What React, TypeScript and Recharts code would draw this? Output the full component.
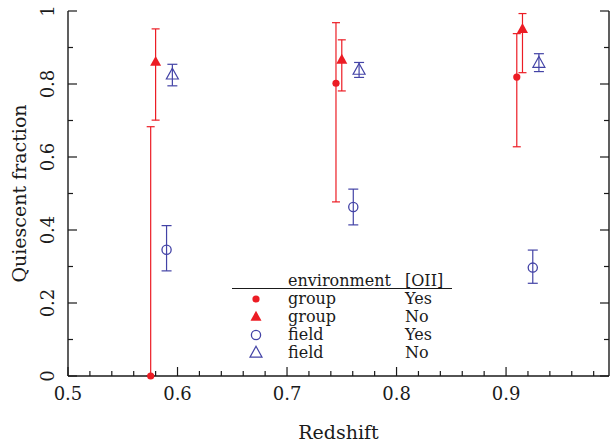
import React from 'react';
import { ScatterChart, Scatter, XAxis, YAxis, ErrorBar } from 'recharts';

// ---- data ----
// [redshift, fraction, lower bound, upper bound]
const groupYes = [
  [0.5755, 0.0, 0.0, 0.683],
  [0.7447, 0.802, 0.477, 0.968],
  [0.9098, 0.819, 0.628, 0.938],
];
const groupNo = [
  [0.58, 0.86, 0.701, 0.951],
  [0.75, 0.866, 0.781, 0.921],
  [0.915, 0.95, 0.831, 0.993],
];
const fieldYes = [
  [0.59, 0.346, 0.288, 0.412],
  [0.7605, 0.463, 0.414, 0.512],
  [0.9244, 0.297, 0.254, 0.345],
];
const fieldNo = [
  [0.5953, 0.825, 0.795, 0.854],
  [0.7658, 0.838, 0.818, 0.859],
  [0.93, 0.857, 0.834, 0.883],
];

const xTicks = [0.5, 0.52, 0.54, 0.56, 0.58, 0.6, 0.62, 0.64, 0.66, 0.68, 0.7, 0.72, 0.74, 0.76, 0.78, 0.8, 0.82, 0.84, 0.86, 0.88, 0.9, 0.92, 0.94, 0.96, 0.98];
const yTicks = [0, 0.1, 0.2, 0.3, 0.4, 0.5, 0.6, 0.7, 0.8, 0.9, 1];
const xMajor = [0.5, 0.6, 0.7, 0.8, 0.9];
const yMajor = [0, 0.2, 0.4, 0.6, 0.8, 1];
const xDomain = [0.5, 0.994];
const yDomain = [0, 1];

const legendHeader = ['environment', '[OII]'];
const legendRows = [
  ['group', 'Yes'],
  ['group', 'No'],
  ['field', 'Yes'],
  ['field', 'No'],
];

// ---- styles ----
const RED = '#ec1c24';
const BLUE = '#4343a6';
const FONT = '"DejaVu Serif", serif';
const INK = '#1a1a1a';

const toRows = (arr: number[][]) =>
  arr.map(([x, y, lo, hi]) => ({ x, y, err: [y - lo, hi - y] }));

const isMajor = (v: number, majors: number[]) => majors.some((m) => Math.abs(m - v) < 1e-6);

const fmt = (v: number) => (Math.abs(v) < 1e-9 ? '0' : Math.abs(v - 1) < 1e-9 ? '1' : v.toFixed(1));

const BottomTick = (props: any) => {
  const { x, y, payload } = props;
  const major = isMajor(payload.value, xMajor);
  return (
    <g>
      <line x1={x} x2={x} y1={y} y2={y - (major ? 9 : 5)} stroke={INK} strokeWidth={1.2} />
      {major && (
        <text x={x} y={y + 24} textAnchor="middle" fontFamily={FONT} fontSize={18} fill={INK}>
          {fmt(payload.value)}
        </text>
      )}
    </g>
  );
};

const TopTick = (props: any) => {
  const { x, y, payload } = props;
  const major = isMajor(payload.value, xMajor);
  return <line x1={x} x2={x} y1={y} y2={y + (major ? 9 : 5)} stroke={INK} strokeWidth={1.2} />;
};

const LeftTick = (props: any) => {
  const { x, y, payload } = props;
  const major = isMajor(payload.value, yMajor);
  const tx = x - 14;
  return (
    <g>
      <line x1={x} x2={x + (major ? 9 : 5)} y1={y} y2={y} stroke={INK} strokeWidth={1.2} />
      {major && (
        <text
          x={tx}
          y={y}
          textAnchor="middle"
          fontFamily={FONT}
          fontSize={18}
          fill={INK}
          transform={`rotate(-90 ${tx} ${y})`}
        >
          {fmt(payload.value)}
        </text>
      )}
    </g>
  );
};

const RightTick = (props: any) => {
  const { x, y, payload } = props;
  const major = isMajor(payload.value, yMajor);
  return <line x1={x} x2={x - (major ? 9 : 5)} y1={y} y2={y} stroke={INK} strokeWidth={1.2} />;
};

const FilledCircle = ({ cx, cy, c }: any) => <circle cx={cx} cy={cy} r={3.6} fill={c} />;
const OpenCircle = ({ cx, cy, c }: any) => <circle cx={cx} cy={cy} r={4.6} fill="none" stroke={c} strokeWidth={1.3} />;
const triPath = (cx: number, cy: number, w: number) => {
  const h = w * 0.9;
  return `M${cx},${cy - h * 0.62} L${cx + w / 2},${cy + h * 0.38} L${cx - w / 2},${cy + h * 0.38} Z`;
};
const FilledTri = ({ cx, cy, c }: any) => <path d={triPath(cx, cy, 11)} fill={c} />;
const OpenTri = ({ cx, cy, c }: any) => <path d={triPath(cx, cy, 12)} fill="none" stroke={c} strokeWidth={1.2} />;

export default function App() {
  return (
    <div style={{ position: 'absolute', left: 0, top: 0, width: 610, height: 445, background: '#fff' }}>
      <ScatterChart width={610} height={445} margin={{ top: 11, right: 0, bottom: 0, left: 0 }}>
        <XAxis
          xAxisId="bottom"
          type="number"
          dataKey="x"
          domain={xDomain}
          ticks={xTicks}
          orientation="bottom"
          height={69}
          axisLine={{ stroke: INK, strokeWidth: 1.4 }}
          tickLine={false}
          tickSize={0}
          tickMargin={0}
          tick={<BottomTick />}
          interval={0}
          label={{ value: 'Redshift', position: 'insideBottom', offset: 6, fontFamily: FONT, fontSize: 19, fill: INK }}
        />
        <XAxis
          xAxisId="top"
          type="number"
          dataKey="x"
          domain={xDomain}
          ticks={xTicks}
          allowDataOverflow
          orientation="top"
          height={0}
          axisLine={{ stroke: INK, strokeWidth: 1.4 }}
          tickLine={false}
          tickSize={0}
          tickMargin={0}
          tick={<TopTick />}
          interval={0}
        />
        <YAxis
          yAxisId="left"
          type="number"
          dataKey="y"
          domain={yDomain}
          ticks={yTicks}
          orientation="left"
          width={68}
          axisLine={{ stroke: INK, strokeWidth: 1.4 }}
          tickLine={false}
          tickSize={0}
          tickMargin={0}
          tick={<LeftTick />}
          interval={0}
          label={{ value: 'Quiescent fraction', angle: -90, position: 'insideLeft', offset: 19, fontFamily: FONT, fontSize: 19, fill: INK, style: { textAnchor: 'middle' } }}
        />
        <YAxis
          yAxisId="right"
          type="number"
          dataKey="y"
          domain={yDomain}
          ticks={yTicks}
          allowDataOverflow
          orientation="right"
          width={1}
          axisLine={{ stroke: INK, strokeWidth: 1.4 }}
          tickLine={false}
          tickSize={0}
          tickMargin={0}
          tick={<RightTick />}
          interval={0}
        />
        <Scatter xAxisId="top" yAxisId="right" data={toRows(fieldNo)} shape={() => <g />} isAnimationActive={false} />
        <Scatter xAxisId="bottom" yAxisId="left" data={toRows(groupYes)} shape={(p: any) => <FilledCircle {...p} c={RED} />} isAnimationActive={false}>
          <ErrorBar dataKey="err" direction="y" width={4} stroke={RED} strokeWidth={1.2} />
        </Scatter>
        <Scatter xAxisId="bottom" yAxisId="left" data={toRows(groupNo)} shape={(p: any) => <FilledTri {...p} c={RED} />} isAnimationActive={false}>
          <ErrorBar dataKey="err" direction="y" width={4} stroke={RED} strokeWidth={1.2} />
        </Scatter>
        <Scatter xAxisId="bottom" yAxisId="left" data={toRows(fieldYes)} shape={(p: any) => <OpenCircle {...p} c={BLUE} />} isAnimationActive={false}>
          <ErrorBar dataKey="err" direction="y" width={5} stroke={BLUE} strokeWidth={1.2} />
        </Scatter>
        <Scatter xAxisId="bottom" yAxisId="left" data={toRows(fieldNo)} shape={(p: any) => <OpenTri {...p} c={BLUE} />} isAnimationActive={false}>
          <ErrorBar dataKey="err" direction="y" width={5} stroke={BLUE} strokeWidth={1.2} />
        </Scatter>
      </ScatterChart>
      <svg width={610} height={445} style={{ position: 'absolute', left: 0, top: 0, pointerEvents: 'none' }}>
        <text x={288} y={285.5} fontFamily={FONT} fontSize={16} fill={INK}>{legendHeader[0]}</text>
        <text x={405} y={285.5} fontFamily={FONT} fontSize={16} fill={INK}>{legendHeader[1]}</text>
        <line x1={232} x2={452} y1={288.5} y2={288.5} stroke={INK} strokeWidth={1.2} />
        {legendRows.map((r, i) => {
          const cy = 299 + i * 18;
          const sym =
            i === 0 ? <FilledCircle cx={256} cy={cy} c={RED} /> :
            i === 1 ? <FilledTri cx={256} cy={cy} c={RED} /> :
            i === 2 ? <OpenCircle cx={256} cy={cy} c={BLUE} /> :
            <OpenTri cx={256} cy={cy} c={BLUE} />;
          return (
            <g key={i}>
              {sym}
              <text x={288} y={cy + 5} fontFamily={FONT} fontSize={16} fill={INK}>{r[0]}</text>
              <text x={405} y={cy + 5} fontFamily={FONT} fontSize={16} fill={INK}>{r[1]}</text>
            </g>
          );
        })}
      </svg>
    </div>
  );
}
